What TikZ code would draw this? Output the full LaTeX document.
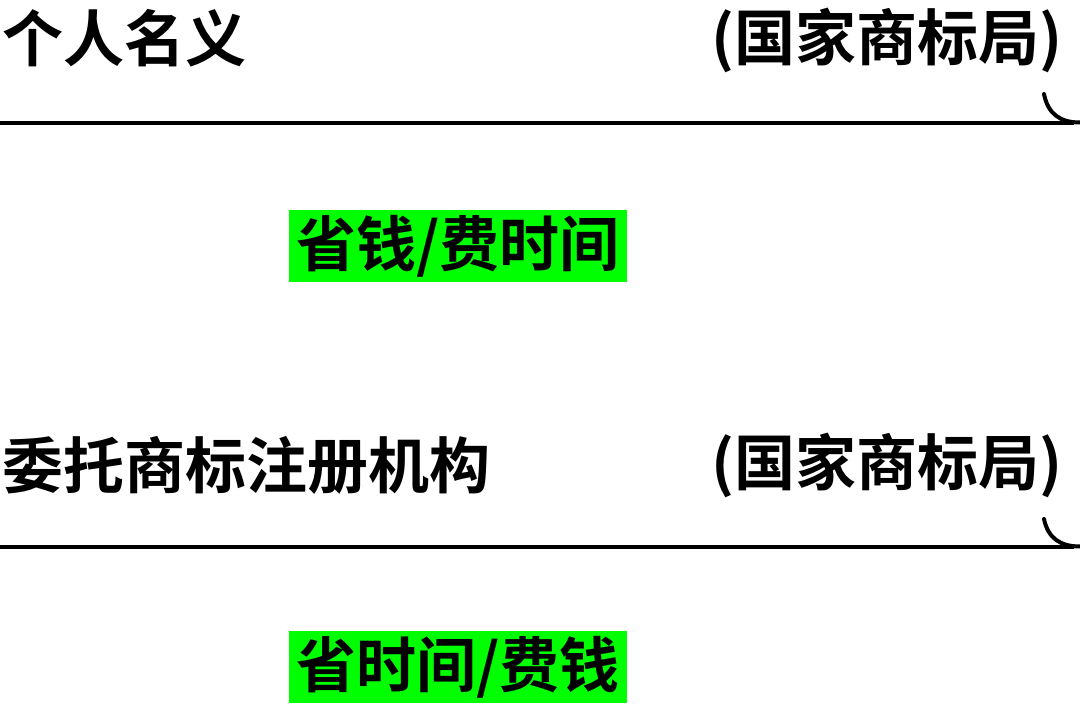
\documentclass[tikz,border=0pt]{standalone}
\usepackage{fontspec}
\newfontfamily\cjk{Noto Sans CJK SC}[BoldFont={* Bold}]
\tikzset{
  lbl/.style={font=\cjk\bfseries\fontsize{61pt}{61pt}\selectfont, inner sep=0pt},
  hilite/.style={lbl, fill=green, minimum width=338pt, minimum height=72pt,
    font=\cjk\bfseries\fontsize{60pt}{60pt}\selectfont},
  rule/.style={line width=4pt}
}
\begin{document}
\begin{tikzpicture}[x=1pt,y=-1pt]
  \useasboundingbox (0,0) rectangle (1080,720);
  % first way
  \node[lbl, anchor=west] (self) at (2,38) {个人名义};
  \node[lbl, anchor=east] (office1) at (1063,40) {(国家商标局)};
  \draw[rule] (0,122.5) -- (1074,122.5);
  \draw[rule, line cap=round] (1044,94) .. controls (1048,114) and (1060,122.5) .. (1080,122.5);
  \node[hilite] (cost1) at (458,246) {省钱/费时间};
  % second way
  \node[lbl, anchor=west] (agent) at (2,465) {委托商标注册机构};
  \node[lbl, anchor=east] (office2) at (1063,465) {(国家商标局)};
  \draw[rule] (0,546.5) -- (1074,546.5);
  \draw[rule, line cap=round] (1044,519) .. controls (1048,538) and (1060,546.5) .. (1080,546.5);
  \node[hilite] (cost2) at (458,667) {省时间/费钱};
\end{tikzpicture}
\end{document}
